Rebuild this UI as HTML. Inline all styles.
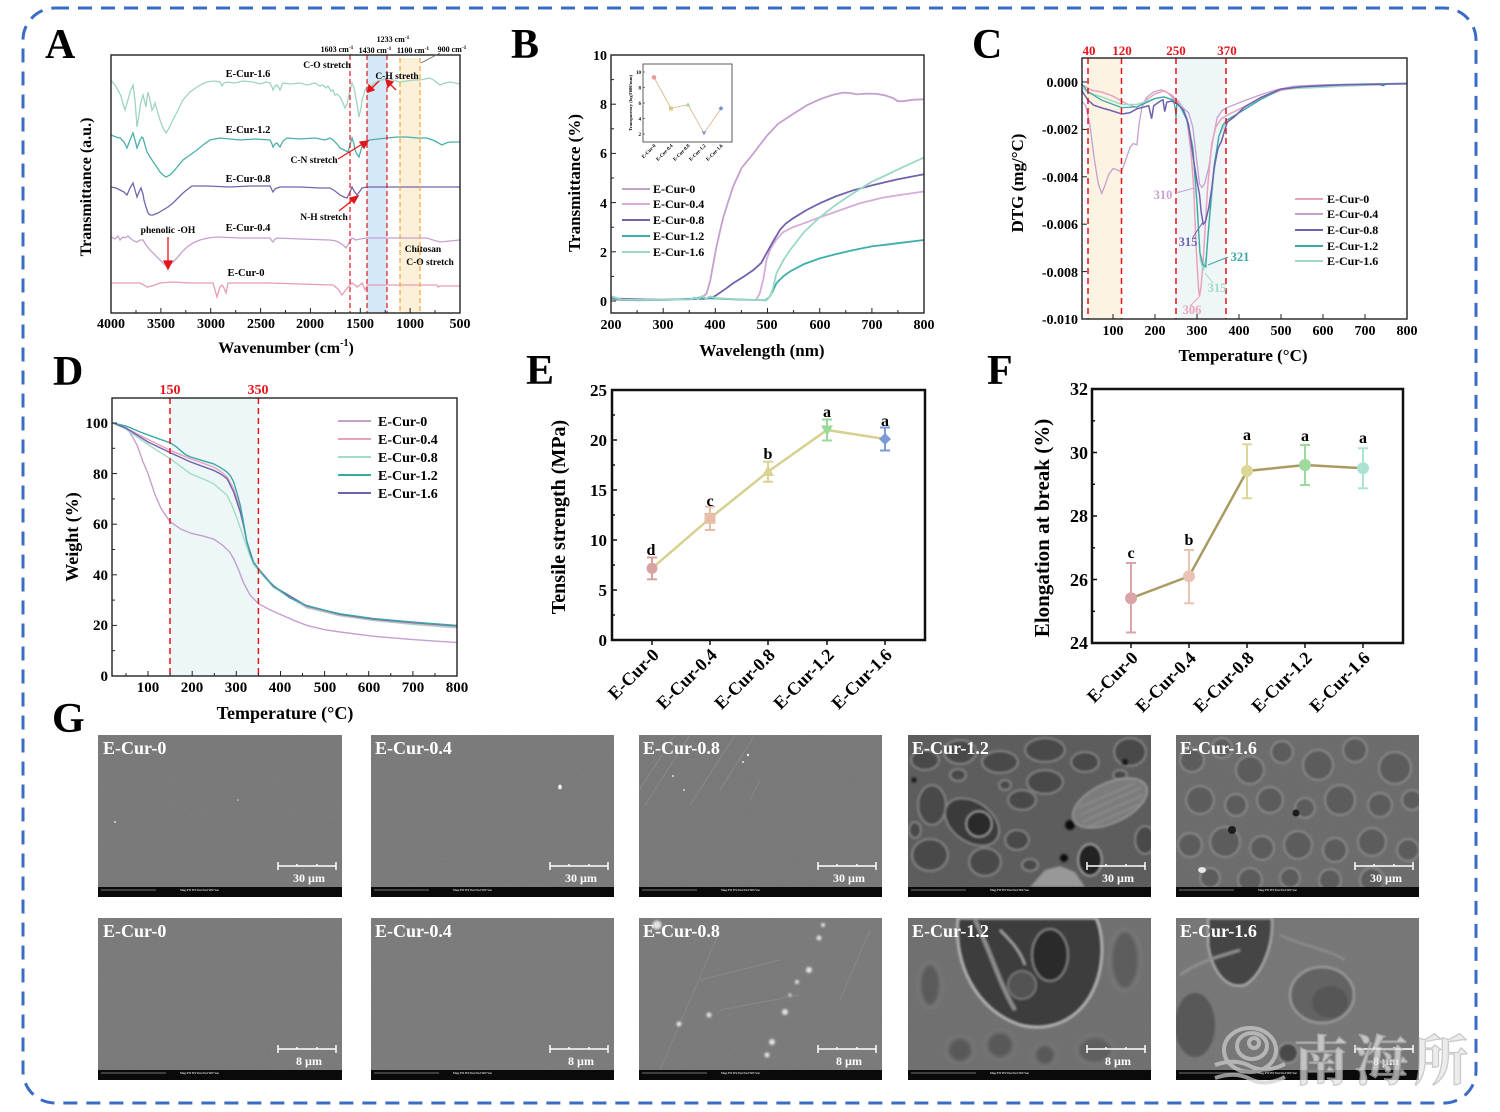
<!DOCTYPE html>
<html><head><meta charset="utf-8"><style>
html,body{margin:0;padding:0;background:#fff;}
svg{display:block;}
text{font-family:"Liberation Serif","Noto Serif CJK SC",serif;font-weight:bold;}
</style></head><body>
<svg width="1500" height="1112" viewBox="0 0 1500 1112" xmlns="http://www.w3.org/2000/svg">
<defs>
<filter id="grain" x="0" y="0" width="1" height="1">
<feTurbulence type="fractalNoise" baseFrequency="0.85" numOctaves="2" seed="4"/>
<feColorMatrix type="matrix" values="0.33 0.33 0.33 0 0 0.33 0.33 0.33 0 0 0.33 0.33 0.33 0 0 0 0 0 0 1"/>
</filter>
<filter id="soft"><feGaussianBlur stdDeviation="1.1"/></filter>
<filter id="soft2"><feGaussianBlur stdDeviation="2"/></filter>
<clipPath id="c1"><rect x="98" y="735" width="244" height="152"/></clipPath>
<clipPath id="c2"><rect x="371" y="735" width="243" height="152"/></clipPath>
<clipPath id="c3"><rect x="639" y="735" width="243" height="152"/></clipPath>
<clipPath id="c4"><rect x="908" y="735" width="243" height="152"/></clipPath>
<clipPath id="c5"><rect x="1176" y="735" width="243" height="152"/></clipPath>
<clipPath id="d1"><rect x="98" y="918" width="244" height="152"/></clipPath>
<clipPath id="d2"><rect x="371" y="918" width="243" height="152"/></clipPath>
<clipPath id="d3"><rect x="639" y="918" width="243" height="152"/></clipPath>
<clipPath id="d4"><rect x="908" y="918" width="243" height="152"/></clipPath>
<clipPath id="d5"><rect x="1176" y="918" width="243" height="152"/></clipPath>
</defs>

<!-- outer dashed border -->
<rect x="23" y="8" width="1453" height="1095" rx="32" ry="32" fill="none" stroke="#3a6bc5" stroke-width="3" stroke-dasharray="14 9"/>

<!-- ================= PANEL A ================= -->
<text x="45" y="58" font-size="42">A</text>
<rect x="367" y="55" width="20" height="258" fill="#d5e8f8"/>
<rect x="400" y="58" width="20" height="255" fill="#fdf0d9"/>
<g fill="none" stroke-width="1.3">
<path stroke="#9ed4c1" d="M111,80 L114,84 L118,90 L121,96 L123,104 L125,110 L127,103 L128,100 L130,92 L133,85 L135,100 L137,127 L139,115 L140,107 L142,98 L143,95 L145,103 L146,107 L147,98 L148,92 L150,100 L152,110 L154,106 L155,103 L157,110 L160,120 L163,128 L166,133 L169,128 L173,120 L178,110 L183,100 L190,92 L197,87 L202,84 L207,82 L214,81 L220,82 L222,86 L224,83 L227,82 L235,83 L243,81 L253,82 L260,84 L266,82 L270,83 L272,87 L273,90 L275,86 L277,85 L279,88 L280,90 L282,85 L283,83 L290,84 L300,83 L307,85 L315,83 L320,86 L323,85 L326,88 L328,86 L331,91 L333,90 L335,95 L337,94 L340,97 L343,103 L345,108 L347,104 L348,100 L350,90 L352,83 L354,88 L355,93 L357,104 L359,117 L361,108 L362,100 L364,94 L365,90 L367,87 L370,88 L373,84 L377,82 L382,80 L387,78 L393,80 L400,82 L407,81 L414,80 L420,80 L425,79 L430,78 L435,81 L440,85 L445,83 L450,82 L455,83 L460,84"/>
<path stroke="#4caeaa" d="M111,135 L116,137 L120,138 L124,142 L127,148 L130,140 L133,133 L135,140 L137,148 L139,143 L140,140 L142,137 L143,138 L145,145 L147,152 L150,157 L152,160 L156,166 L160,172 L163,175 L166,177 L170,175 L173,172 L178,166 L183,160 L190,155 L197,150 L203,145 L210,140 L215,139 L220,138 L230,139 L240,140 L255,139 L270,140 L272,144 L273,147 L275,144 L277,143 L279,146 L280,147 L283,141 L287,138 L300,139 L315,138 L325,140 L330,138 L333,140 L337,144 L340,148 L344,150 L348,152 L350,145 L352,138 L354,144 L355,150 L357,154 L359,157 L361,150 L363,143 L366,141 L370,140 L378,139 L387,138 L397,137 L407,137 L417,138 L427,138 L435,141 L442,145 L446,143 L450,142 L460,142"/>
<path stroke="#7463ad" d="M111,187 L116,188 L120,190 L124,192 L127,195 L130,188 L133,183 L135,190 L137,197 L139,192 L141,188 L143,194 L144,200 L146,207 L148,213 L150,215 L153,215 L158,213 L163,210 L168,207 L173,203 L178,198 L183,193 L188,189 L192,186 L207,186 L230,187 L250,186 L270,186 L272,190 L273,192 L275,189 L277,188 L280,187 L300,187 L320,188 L330,188 L335,191 L340,195 L344,197 L347,198 L350,192 L352,187 L354,191 L357,195 L360,191 L362,188 L367,187 L400,187 L430,187 L460,187"/>
<path stroke="#c6a0cf" d="M111,237 L115,239 L118,236 L120,240 L123,237 L125,238 L128,236 L130,238 L134,241 L137,242 L140,240 L143,240 L146,245 L150,250 L155,255 L160,260 L164,264 L168,267 L172,263 L177,258 L182,252 L187,247 L193,243 L200,240 L208,238 L217,237 L240,238 L270,238 L272,241 L273,242 L275,239 L277,238 L300,239 L330,240 L336,241 L340,243 L343,245 L346,248 L349,243 L352,238 L356,240 L360,239 L367,238 L400,238 L427,238 L433,240 L440,242 L450,241 L460,240"/>
<path stroke="#e59cb7" d="M111,283 L130,283 L140,283 L144,285 L147,287 L152,286 L160,283 L173,282 L190,283 L207,283 L213,283 L215,290 L217,297 L219,290 L220,287 L222,285 L224,288 L226,293 L227,288 L228,283 L250,283 L270,283 L300,284 L333,285 L338,289 L342,295 L345,291 L348,287 L352,283 L355,285 L357,287 L360,285 L362,283 L364,287 L365,290 L367,286 L368,285 L400,285 L437,285 L438,287 L440,286 L460,286"/>
</g>
<g stroke-width="1.2" stroke-dasharray="5 3">
<line x1="350" y1="55" x2="350" y2="313" stroke="#e4141b"/>
<line x1="367" y1="55" x2="367" y2="313" stroke="#e4141b"/>
<line x1="387" y1="55" x2="387" y2="313" stroke="#e4141b"/>
<line x1="400" y1="58" x2="400" y2="313" stroke="#f0a830"/>
<line x1="420" y1="58" x2="420" y2="313" stroke="#f0a830"/>
</g>
<rect x="111" y="55" width="349" height="258" fill="none" stroke="#222" stroke-width="1.4"/>
<g stroke="#222" stroke-width="1">
<line x1="111" y1="313" x2="111" y2="308"/><line x1="160.9" y1="313" x2="160.9" y2="308"/><line x1="210.7" y1="313" x2="210.7" y2="308"/><line x1="260.6" y1="313" x2="260.6" y2="308"/><line x1="310.4" y1="313" x2="310.4" y2="308"/><line x1="360.3" y1="313" x2="360.3" y2="308"/><line x1="410.1" y1="313" x2="410.1" y2="308"/>
<line x1="136" y1="313" x2="136" y2="310"/><line x1="185.8" y1="313" x2="185.8" y2="310"/><line x1="235.7" y1="313" x2="235.7" y2="310"/><line x1="285.5" y1="313" x2="285.5" y2="310"/><line x1="335.4" y1="313" x2="335.4" y2="310"/><line x1="385.2" y1="313" x2="385.2" y2="310"/><line x1="435" y1="313" x2="435" y2="310"/>
</g>
<g font-size="14" text-anchor="middle">
<text x="111" y="328">4000</text><text x="161" y="328">3500</text><text x="211" y="328">3000</text><text x="261" y="328">2500</text><text x="310" y="328">2000</text><text x="360" y="328">1500</text><text x="410" y="328">1000</text><text x="460" y="328">500</text>
</g>
<text x="286" y="353" font-size="16" text-anchor="middle">Wavenumber (cm<tspan font-size="10" dy="-7">-1</tspan><tspan dy="7">)</tspan></text>
<text transform="translate(91,187) rotate(-90)" font-size="16" text-anchor="middle">Transmittance (a.u.)</text>
<g font-size="10.5" text-anchor="middle">
<text x="248" y="77">E-Cur-1.6</text><text x="248" y="133">E-Cur-1.2</text><text x="248" y="182">E-Cur-0.8</text><text x="248" y="231">E-Cur-0.4</text><text x="246" y="276">E-Cur-0</text>
</g>
<g font-size="9.5" text-anchor="middle">
<text x="327" y="68">C-O stretch</text><text x="397" y="79">C-H streth</text><text x="314" y="163">C-N stretch</text><text x="324" y="220">N-H stretch</text><text x="168" y="233">phenolic -OH</text><text x="423" y="252">Chitosan</text><text x="430" y="265">C-O stretch</text>
</g>
<g font-size="8" text-anchor="middle">
<text x="393" y="42">1233 cm<tspan font-size="5.5" dy="-3">-1</tspan></text>
<text x="337" y="52">1603 cm<tspan font-size="5.5" dy="-3">-1</tspan></text>
<text x="375" y="53">1430 cm<tspan font-size="5.5" dy="-3">-1</tspan></text>
<text x="413" y="53">1100 cm<tspan font-size="5.5" dy="-3">-1</tspan></text>
<text x="452" y="52">900 cm<tspan font-size="5.5" dy="-3">-1</tspan></text>
</g>
<g stroke="#e4141b" stroke-width="1.3" fill="#e4141b">
<line x1="168" y1="237" x2="168" y2="263"/><polygon points="164,261 172,261 168,269"/>
<line x1="338" y1="159" x2="364" y2="143"/><polygon points="368,141 360,142 364,148"/>
<line x1="339" y1="211" x2="354" y2="199"/><polygon points="358,196 350,198 354,203"/>
<line x1="379" y1="81" x2="371" y2="89"/><polygon points="368,92 369,85 374,90"/>
<line x1="396" y1="90" x2="390" y2="84"/><polygon points="386,80 393,82 388,87"/>
</g>
<line x1="421" y1="63" x2="440" y2="53" stroke="#666" stroke-width="0.8"/>

<!-- ================= PANEL B ================= -->
<text x="511" y="58" font-size="42">B</text>
<g fill="none" stroke-width="1.8">
<path stroke="#c59fd0" d="M611,298 L616.2,299.8 L637.1,300.3 L663.2,299.8 L684,299.3 L694.5,298.5 L702.3,297.3 L706.5,293.6 L710.1,281.3 L716.4,246.9 L723.2,217.4 L733.1,186.6 L741.4,168.2 L753.4,153.4 L766.5,136.2 L778,123.9 L793.1,114 L806.6,105.4 L819.7,99.3 L832.7,94.9 L843.2,92.6 L851,93.1 L856.7,94.4 L866.6,93.6 L876.5,93.9 L884.9,95.3 L892.7,98 L897.9,101.2 L903.2,101.2 L913.6,99.7 L924,99.3"/>
<path stroke="#d7abd8" d="M611,298.5 L663.2,299.8 L704.9,299 L715.3,298.5 L741.4,299.8 L756,300 L759.7,293.6 L763.4,278.9 L766.5,259.9 L770.2,249.3 L776.4,239.5 L783.2,232.1 L793.1,227.2 L806.6,222.3 L819.7,217.4 L840.6,210 L859.9,203.3 L882.3,197.7 L903.2,194.5 L924,191.5"/>
<path stroke="#7361ae" d="M611,298.5 L663.2,299.8 L704.9,298.5 L712.7,297.3 L716.4,295.1 L725.8,288.7 L733.1,283.3 L744.1,276.4 L753.4,270 L761.2,262.9 L766.5,253.3 L772.8,242 L780.1,229.7 L785.8,223.5 L793.1,218.3 L806.6,210 L819.7,203.3 L835.4,196.5 L853.1,190.3 L871.9,185.4 L897.9,179.2 L924,174.3"/>
<path stroke="#3eaeab" d="M611,297.3 L621.4,299.8 L663.2,300 L694.5,299 L699.7,297.3 L703,299 L707.5,298 L715.3,298.5 L741.4,299.5 L764.9,300.3 L769.1,297.3 L772.8,291.2 L776.4,283.3 L783.2,276.4 L790,271.5 L804,264.1 L819.7,258.4 L835.4,254.3 L853.1,250.1 L871.9,246.4 L897.9,243.2 L924,240"/>
<path stroke="#9ad7c6" d="M611,296.1 L621.4,299.5 L663.2,299.8 L690,299.5 L694.5,297.5 L698,299 L702.3,296.1 L706,298.5 L710.1,296.3 L715.3,298 L741.4,299.5 L766.5,300.3 L770.2,296.1 L772.8,288.7 L776.4,273.4 L783.2,260.4 L790,250.1 L804,232.1 L819.7,217.4 L835.4,205.1 L853.1,193.3 L871.9,181.7 L886.5,175 L903.2,166.9 L924,157.6"/>
</g>
<rect x="611" y="55" width="313" height="258" fill="none" stroke="#222" stroke-width="1.4"/>
<g stroke="#222" stroke-width="1">
<line x1="611" y1="301" x2="616" y2="301"/><line x1="611" y1="251.8" x2="616" y2="251.8"/><line x1="611" y1="202.6" x2="616" y2="202.6"/><line x1="611" y1="153.4" x2="616" y2="153.4"/><line x1="611" y1="104.2" x2="616" y2="104.2"/>
<line x1="611" y1="276.4" x2="614" y2="276.4"/><line x1="611" y1="227.2" x2="614" y2="227.2"/><line x1="611" y1="178" x2="614" y2="178"/><line x1="611" y1="128.8" x2="614" y2="128.8"/><line x1="611" y1="79.6" x2="614" y2="79.6"/>
<line x1="663.2" y1="313" x2="663.2" y2="308"/><line x1="715.3" y1="313" x2="715.3" y2="308"/><line x1="767.5" y1="313" x2="767.5" y2="308"/><line x1="819.7" y1="313" x2="819.7" y2="308"/><line x1="871.9" y1="313" x2="871.9" y2="308"/>
<line x1="637.1" y1="313" x2="637.1" y2="310"/><line x1="689.3" y1="313" x2="689.3" y2="310"/><line x1="741.4" y1="313" x2="741.4" y2="310"/><line x1="793.6" y1="313" x2="793.6" y2="310"/><line x1="845.8" y1="313" x2="845.8" y2="310"/><line x1="897.9" y1="313" x2="897.9" y2="310"/>
</g>
<g font-size="14" text-anchor="end">
<text x="607" y="306">0</text><text x="607" y="257">2</text><text x="607" y="208">4</text><text x="607" y="158">6</text><text x="607" y="109">8</text><text x="607" y="60">10</text>
</g>
<g font-size="14" text-anchor="middle">
<text x="611" y="329">200</text><text x="663" y="329">300</text><text x="715" y="329">400</text><text x="767" y="329">500</text><text x="820" y="329">600</text><text x="872" y="329">700</text><text x="924" y="329">800</text>
</g>
<text x="762" y="356" font-size="17" text-anchor="middle">Wavelength (nm)</text>
<text transform="translate(580,183) rotate(-90)" font-size="17" text-anchor="middle">Transmittance (%)</text>
<g stroke-width="2">
<line x1="622" y1="189" x2="650" y2="189" stroke="#c59fd0"/>
<line x1="622" y1="204" x2="650" y2="204" stroke="#d7abd8"/>
<line x1="622" y1="220" x2="650" y2="220" stroke="#7361ae"/>
<line x1="622" y1="236" x2="650" y2="236" stroke="#3eaeab"/>
<line x1="622" y1="252" x2="650" y2="252" stroke="#9ad7c6"/>
</g>
<g font-size="12">
<text x="653" y="193">E-Cur-0</text><text x="653" y="208">E-Cur-0.4</text><text x="653" y="224">E-Cur-0.8</text><text x="653" y="240">E-Cur-1.2</text><text x="653" y="256">E-Cur-1.6</text>
</g>
<!-- inset -->
<rect x="643" y="64" width="89" height="78" fill="#fff" stroke="#333" stroke-width="0.8"/>
<polyline points="654,77.4 671,108.4 688,104.6 704,133.2 721,108.4" fill="none" stroke="#e4b78d" stroke-width="0.9"/>
<circle cx="654" cy="77.4" r="2.3" fill="#e89a9a"/>
<rect x="669" y="106.4" width="4" height="4" fill="#d6cb7e"/>
<polygon points="688,102.2 690.4,106.4 685.6,106.4" fill="#a9da94"/>
<polygon points="704,135.5 706.4,131.3 701.6,131.3" fill="#8c98d8"/>
<polygon points="721,106 723.4,108.4 721,110.8 718.6,108.4" fill="#7a8ed8"/>
<g stroke="#333" stroke-width="0.6"><line x1="643" y1="72" x2="645" y2="72"/><line x1="643" y1="87.5" x2="645" y2="87.5"/><line x1="643" y1="103" x2="645" y2="103"/><line x1="643" y1="118.5" x2="645" y2="118.5"/><line x1="643" y1="134" x2="645" y2="134"/></g>
<g font-size="5" text-anchor="end" font-weight="normal">
<text x="641" y="74">10</text><text x="641" y="89.5">8</text><text x="641" y="105">6</text><text x="641" y="120.5">4</text><text x="641" y="136">2</text>
</g>
<text transform="translate(632,103) rotate(-90)" font-size="4.6" text-anchor="middle">Transparency (logT600/mm)</text>
<g font-size="5" text-anchor="end">
<text transform="translate(656,146) rotate(-45)">E-Cur-0</text>
<text transform="translate(673,146) rotate(-45)">E-Cur-0.4</text>
<text transform="translate(690,146) rotate(-45)">E-Cur-0.8</text>
<text transform="translate(706,146) rotate(-45)">E-Cur-1.2</text>
<text transform="translate(723,146) rotate(-45)">E-Cur-1.6</text>
</g>

<!-- ================= PANEL C ================= -->
<text x="972" y="58" font-size="42">C</text>
<rect x="1088" y="58" width="33" height="261" fill="#fdf3e2"/>
<rect x="1176" y="58" width="50" height="261" fill="#eef6f8"/>
<g fill="none" stroke-width="1.3">
<path stroke="#c59fd0" d="M1081.5,101 L1085.7,105.7 L1089.9,124.7 L1094.1,157.8 L1098.3,183.9 L1101.7,193.4 L1104.6,186.3 L1108.8,174.4 L1113,168.5 L1116.8,169.7 L1121.4,172.1 L1125.6,160.2 L1130.2,147.2 L1133.2,143.6 L1136.9,144.8 L1139,124.7 L1142,106.9 L1146.6,97.4 L1153.7,92 L1161.3,89.8 L1167.6,92.7 L1173.5,98.6 L1180.2,104.5 L1184.4,109.3 L1188.6,112.8 L1192.8,127 L1197,162.6 L1199.5,183.9 L1202,187.5 L1204.6,183.9 L1208.8,167.3 L1213,138.9 L1217.2,117.6 L1222.2,110.4 L1227.2,107.4 L1234.8,104.5 L1243.6,101 L1260,95 L1276.8,89.6 L1293.6,86.3 L1323,84.8 L1365,83.9 L1407,83.2"/>
<path stroke="#e9a2bd" stroke-width="1.5" d="M1081.5,84.4 L1092,90.3 L1101.7,92 L1113,96.2 L1125.6,103.3 L1136.9,107.6 L1146.6,99.8 L1155,93.9 L1163.8,90.8 L1171.8,95 L1180.2,103.3 L1186.9,119.9 L1191.1,153.1 L1193.6,186.3 L1196.2,247.9 L1198.3,285.8 L1199.5,296.7 L1201.2,285.8 L1203.7,252.6 L1207.5,188.7 L1211.7,143.6 L1215.9,127 L1221.4,118.7 L1227.2,115.2 L1239,109.3 L1260,98.6 L1281,90.3 L1306.2,86.7 L1344,84.8 L1407,83.4"/>
<path stroke="#9fdac7" stroke-width="1.5" d="M1081.5,87 L1087.8,92.7 L1101.7,96.9 L1121.8,104.5 L1136.9,104.5 L1155,98.6 L1163.8,96.9 L1173.5,99.8 L1181,105.7 L1186.9,117.6 L1192.8,146 L1197,205.2 L1200.4,259.8 L1203.3,270.4 L1206.2,257.4 L1209.6,219.5 L1213.8,174.4 L1218.8,136.5 L1227.2,119.9 L1239,112.8 L1260,99.8 L1281,89.1 L1407,83.4"/>
<path stroke="#3aa8a5" d="M1081.5,83.7 L1087.8,91.5 L1101.7,100.2 L1121.8,107.6 L1136.9,106.9 L1155,98.6 L1163.8,96.9 L1173.5,100.2 L1175.2,108.1 L1176,117.6 L1176.8,103.3 L1181,108.1 L1186.9,119.9 L1192.8,148.4 L1197,202.9 L1199.9,252.6 L1202.9,264.5 L1205.8,266.9 L1207.9,236 L1210.9,200.5 L1214.2,165 L1218.8,136.5 L1223,124.7 L1227.2,119.9 L1239,112.8 L1260,99.8 L1281,89.1 L1306.2,86.3 L1344,84.6 L1407,83.4"/>
<path stroke="#7060b0" stroke-width="1.5" d="M1081.5,90.3 L1087.8,99.8 L1093.7,105.2 L1102.5,108.1 L1110.5,110.4 L1121.8,114 L1129.8,112.8 L1136.9,108.8 L1144.5,106.9 L1148.7,105.7 L1151.6,118.7 L1153.7,105.7 L1160.5,101 L1163,99.8 L1164.7,111.6 L1166.8,102.1 L1171.8,101 L1178.1,104.5 L1183.6,110.4 L1188.6,124.7 L1193.6,160.2 L1197,181.5 L1199.5,194.3 L1201.2,212.4 L1203.3,224.2 L1205.4,221.8 L1208.8,207.6 L1211.7,188.7 L1214.2,167.3 L1218,148.4 L1221.4,141.3 L1227.2,122.3 L1234.8,116.4 L1244,107.4 L1260.8,97.4 L1281,89.1 L1302,86.7 L1344,84.8 L1380,84.4 L1383,85.5 L1386,84 L1407,83.9"/>
</g>
<g stroke="#e4141b" stroke-width="1.5" stroke-dasharray="6 4">
<line x1="1088" y1="58" x2="1088" y2="319"/><line x1="1121.5" y1="58" x2="1121.5" y2="319"/><line x1="1176" y1="58" x2="1176" y2="319"/><line x1="1226" y1="58" x2="1226" y2="319"/>
</g>
<rect x="1082" y="58" width="325" height="261" fill="none" stroke="#222" stroke-width="1.4"/>
<g stroke="#222" stroke-width="1">
<line x1="1082" y1="82" x2="1087" y2="82"/><line x1="1082" y1="129.4" x2="1087" y2="129.4"/><line x1="1082" y1="176.8" x2="1087" y2="176.8"/><line x1="1082" y1="224.2" x2="1087" y2="224.2"/><line x1="1082" y1="271.6" x2="1087" y2="271.6"/>
<line x1="1113" y1="319" x2="1113" y2="314"/><line x1="1155" y1="319" x2="1155" y2="314"/><line x1="1197" y1="319" x2="1197" y2="314"/><line x1="1239" y1="319" x2="1239" y2="314"/><line x1="1281" y1="319" x2="1281" y2="314"/><line x1="1323" y1="319" x2="1323" y2="314"/><line x1="1365" y1="319" x2="1365" y2="314"/>
</g>
<g font-size="14" text-anchor="end">
<text x="1078" y="87">0.000</text><text x="1078" y="134">-0.002</text><text x="1078" y="182">-0.004</text><text x="1078" y="229">-0.006</text><text x="1078" y="277">-0.008</text><text x="1078" y="324">-0.010</text>
</g>
<g font-size="14" text-anchor="middle">
<text x="1113" y="335">100</text><text x="1155" y="335">200</text><text x="1197" y="335">300</text><text x="1239" y="335">400</text><text x="1281" y="335">500</text><text x="1323" y="335">600</text><text x="1365" y="335">700</text><text x="1407" y="335">800</text>
</g>
<text x="1243" y="361" font-size="17" text-anchor="middle">Temperature (°C)</text>
<text transform="translate(1023,183) rotate(-90)" font-size="17" text-anchor="middle">DTG (mg/°C)</text>
<g font-size="13" fill="#e4141b" text-anchor="middle">
<text x="1089" y="55">40</text><text x="1122" y="55">120</text><text x="1176" y="55">250</text><text x="1227" y="55">370</text>
</g>
<g font-size="12.5" text-anchor="middle">
<text x="1163" y="199" fill="#c8a2d2">310</text>
<text x="1188" y="246" fill="#7060b0">315</text>
<text x="1240" y="261" fill="#3aa8a5">321</text>
<text x="1217" y="292" fill="#9fdac7">315</text>
<text x="1192" y="314" fill="#e9a2bd">306</text>
</g>
<g stroke-width="1">
<line x1="1176" y1="193" x2="1198" y2="187" stroke="#c8a2d2"/>
<line x1="1193" y1="237" x2="1203" y2="222" stroke="#7060b0"/>
<line x1="1228" y1="257" x2="1208" y2="265" stroke="#3aa8a5"/>
<line x1="1213" y1="283" x2="1205" y2="273" stroke="#9fdac7"/>
<line x1="1190" y1="306" x2="1199" y2="297" stroke="#e9a2bd"/>
</g>
<g stroke-width="2">
<line x1="1295" y1="199" x2="1323" y2="199" stroke="#e9a2bd"/>
<line x1="1295" y1="214" x2="1323" y2="214" stroke="#c59fd0"/>
<line x1="1295" y1="230" x2="1323" y2="230" stroke="#7060b0"/>
<line x1="1295" y1="246" x2="1323" y2="246" stroke="#3aa8a5"/>
<line x1="1295" y1="261" x2="1323" y2="261" stroke="#9fdac7"/>
</g>
<g font-size="12">
<text x="1327" y="203">E-Cur-0</text><text x="1327" y="218">E-Cur-0.4</text><text x="1327" y="234">E-Cur-0.8</text><text x="1327" y="250">E-Cur-1.2</text><text x="1327" y="265">E-Cur-1.6</text>
</g>

<!-- ================= PANEL D ================= -->
<text x="53" y="385" font-size="42">D</text>
<rect x="170" y="398" width="88.4" height="278" fill="#eef7f7"/>
<g fill="none" stroke-width="1.4">
<path stroke="#c59fd0" d="M113,423 L121.6,425.5 L127.3,428.6 L132.6,437 L137.4,445.8 L142.7,461 L148,473.6 L154.7,493.8 L161.3,509 L170.1,521.7 L181.1,529.3 L192.2,533.6 L203.2,536.1 L214.3,539.4 L223.1,545.7 L229.7,552 L234.1,559.6 L238.5,569.7 L243.4,582.4 L250,595 L258.4,603.6 L269.4,609.5 L280.5,614.5 L293.7,620.3 L307,625.4 L324.6,629.7 L340.1,632 L373.6,636.3 L412.9,639.6 L457,642.6"/>
<path stroke="#a2dbc8" d="M113,423 L126,429.3 L148,444.5 L170.1,458.7 L190.4,473.6 L205.4,479.9 L213.4,483.7 L220.9,490 L227.1,495.4 L231.9,505.2 L236.3,516.6 L241.6,531.8 L246.9,547 L253.5,564.7 L258.4,570.2 L273.4,587.5 L306.5,607.7 L340.1,615.8 L373.6,620.6 L412.9,624.4 L457,627.9"/>
<path stroke="#e9a2bd" d="M113,423 L126,428.1 L148,439.4 L170.1,450.3 L190.4,458.7 L213.4,467 L220.9,471.6 L227.1,476.9 L233.7,488.8 L240.3,508.5 L243.8,525.5 L246.9,541.9 L253.5,562.2 L258.4,568.7 L273.4,586.7 L306.5,606.7 L340.1,615 L373.6,619.8 L412.9,623.4 L457,626.7"/>
<path stroke="#7060b0" d="M113,423 L126,428.1 L148,442 L170.1,452.6 L190.4,461.9 L213.4,470.3 L220.9,474.1 L227.1,478.7 L233.7,492.1 L240.3,512.1 L243.8,526.7 L246.9,541.9 L253.5,562.2 L258.4,568.7 L273.4,586.2 L306.5,605.9 L340.1,614.3 L373.6,619.1 L412.9,622.6 L457,625.9"/>
<path stroke="#3aa8a5" d="M113,423 L126,426 L140.5,432.1 L156.9,438.2 L170.1,442.7 L176.7,447 L180.3,450.3 L185.6,454.6 L190.4,456.9 L201,460.2 L213.4,463.8 L220.9,467.8 L227.1,472.2 L230.6,476.1 L233.7,482 L237.2,493.8 L240.3,505.2 L243.8,524.2 L246.9,541.9 L250.4,554.6 L253.5,562.2 L258.4,568.7 L265,577.3 L273.4,585.4 L289.3,597.6 L306.5,605.4 L324.6,610.2 L340.1,613.8 L373.6,618.6 L412.9,622.1 L457,625.4"/>
</g>
<g stroke="#e4141b" stroke-width="1.5" stroke-dasharray="6 4">
<line x1="170" y1="398" x2="170" y2="676"/><line x1="258.4" y1="398" x2="258.4" y2="676"/>
</g>
<rect x="112" y="398" width="345" height="278" fill="none" stroke="#222" stroke-width="1.4"/>
<g stroke="#222" stroke-width="1">
<line x1="112" y1="625.4" x2="117" y2="625.4"/><line x1="112" y1="574.8" x2="117" y2="574.8"/><line x1="112" y1="524.2" x2="117" y2="524.2"/><line x1="112" y1="473.6" x2="117" y2="473.6"/><line x1="112" y1="423" x2="117" y2="423"/>
<line x1="112" y1="650.7" x2="115" y2="650.7"/><line x1="112" y1="600.1" x2="115" y2="600.1"/><line x1="112" y1="549.5" x2="115" y2="549.5"/><line x1="112" y1="498.9" x2="115" y2="498.9"/><line x1="112" y1="448.3" x2="115" y2="448.3"/>
<line x1="148" y1="676" x2="148" y2="671"/><line x1="192.2" y1="676" x2="192.2" y2="671"/><line x1="236.3" y1="676" x2="236.3" y2="671"/><line x1="280.5" y1="676" x2="280.5" y2="671"/><line x1="324.6" y1="676" x2="324.6" y2="671"/><line x1="368.7" y1="676" x2="368.7" y2="671"/><line x1="412.9" y1="676" x2="412.9" y2="671"/>
<line x1="126" y1="676" x2="126" y2="673"/><line x1="170.1" y1="676" x2="170.1" y2="673"/><line x1="214.3" y1="676" x2="214.3" y2="673"/><line x1="258.4" y1="676" x2="258.4" y2="673"/><line x1="302.5" y1="676" x2="302.5" y2="673"/><line x1="346.7" y1="676" x2="346.7" y2="673"/><line x1="390.8" y1="676" x2="390.8" y2="673"/><line x1="435" y1="676" x2="435" y2="673"/>
</g>
<g font-size="15" text-anchor="end">
<text x="108" y="681">0</text><text x="108" y="630">20</text><text x="108" y="580">40</text><text x="108" y="529">60</text><text x="108" y="479">80</text><text x="108" y="428">100</text>
</g>
<g font-size="15" text-anchor="middle">
<text x="148" y="692">100</text><text x="192" y="692">200</text><text x="236" y="692">300</text><text x="280" y="692">400</text><text x="325" y="692">500</text><text x="369" y="692">600</text><text x="413" y="692">700</text><text x="457" y="692">800</text>
</g>
<text x="285" y="719" font-size="18" text-anchor="middle">Temperature (°C)</text>
<text transform="translate(78,537) rotate(-90)" font-size="18" text-anchor="middle">Weight (%)</text>
<g font-size="14" fill="#e4141b" text-anchor="middle"><text x="170" y="394">150</text><text x="258" y="394">350</text></g>
<g stroke-width="2">
<line x1="338" y1="421" x2="371" y2="421" stroke="#c59fd0"/>
<line x1="338" y1="439" x2="371" y2="439" stroke="#e9a2bd"/>
<line x1="338" y1="457" x2="371" y2="457" stroke="#a2dbc8"/>
<line x1="338" y1="475" x2="371" y2="475" stroke="#3aa8a5"/>
<line x1="338" y1="493" x2="371" y2="493" stroke="#7060b0"/>
</g>
<g font-size="14">
<text x="378" y="426">E-Cur-0</text><text x="378" y="444">E-Cur-0.4</text><text x="378" y="462">E-Cur-0.8</text><text x="378" y="480">E-Cur-1.2</text><text x="378" y="498">E-Cur-1.6</text>
</g>

<!-- ================= PANEL E ================= -->
<text x="526" y="384" font-size="42">E</text>
<polyline points="652,568.3 710,518.3 768,471.7 827,430 885,439" fill="none" stroke="#d7d08f" stroke-width="2.5"/>
<g stroke-width="2">
<g stroke="#d9a3a3"><line x1="652" y1="557.5" x2="652" y2="579.3"/><line x1="647" y1="557.5" x2="657" y2="557.5"/><line x1="647" y1="579.3" x2="657" y2="579.3"/></g>
<g stroke="#e6bda6"><line x1="710" y1="506.6" x2="710" y2="530"/><line x1="705" y1="506.6" x2="715" y2="506.6"/><line x1="705" y1="530" x2="715" y2="530"/></g>
<g stroke="#d9d394"><line x1="768" y1="461.7" x2="768" y2="481.7"/><line x1="763" y1="461.7" x2="773" y2="461.7"/><line x1="763" y1="481.7" x2="773" y2="481.7"/></g>
<g stroke="#9bd99b"><line x1="827" y1="419.5" x2="827" y2="440.5"/><line x1="822" y1="419.5" x2="832" y2="419.5"/><line x1="822" y1="440.5" x2="832" y2="440.5"/></g>
<g stroke="#7b9ad3"><line x1="885" y1="427.5" x2="885" y2="450.5"/><line x1="880" y1="427.5" x2="890" y2="427.5"/><line x1="880" y1="450.5" x2="890" y2="450.5"/></g>
</g>
<circle cx="652" cy="568.3" r="5.5" fill="#d9a3a3"/>
<rect x="704.5" y="512.8" width="11" height="11" fill="#e6bda6"/>
<polygon points="768,465.5 774,476 762,476" fill="#d9d394"/>
<polygon points="827,436 833,425.5 821,425.5" fill="#9bd99b"/>
<polygon points="885,433 891,439 885,445 879,439" fill="#7b9ad3"/>
<g font-size="16" text-anchor="middle">
<text x="651" y="555">d</text><text x="710" y="506">c</text><text x="768" y="459">b</text><text x="827" y="417">a</text><text x="885" y="426">a</text>
</g>
<rect x="612" y="390" width="313" height="250" fill="none" stroke="#111" stroke-width="2.5"/>
<g stroke="#111" stroke-width="1.5">
<line x1="612" y1="590" x2="617" y2="590"/><line x1="612" y1="540" x2="617" y2="540"/><line x1="612" y1="490" x2="617" y2="490"/><line x1="612" y1="440" x2="617" y2="440"/>
<line x1="612" y1="615" x2="615" y2="615"/><line x1="612" y1="565" x2="615" y2="565"/><line x1="612" y1="515" x2="615" y2="515"/><line x1="612" y1="465" x2="615" y2="465"/><line x1="612" y1="415" x2="615" y2="415"/>
<line x1="652" y1="640" x2="652" y2="645"/><line x1="710" y1="640" x2="710" y2="645"/><line x1="768" y1="640" x2="768" y2="645"/><line x1="827" y1="640" x2="827" y2="645"/><line x1="885" y1="640" x2="885" y2="645"/>
</g>
<g font-size="17" text-anchor="end">
<text x="607" y="646">0</text><text x="607" y="596">5</text><text x="607" y="546">10</text><text x="607" y="496">15</text><text x="607" y="446">20</text><text x="607" y="396">25</text>
</g>
<g font-size="18" text-anchor="end">
<text transform="translate(660,656) rotate(-45)">E-Cur-0</text>
<text transform="translate(718,656) rotate(-45)">E-Cur-0.4</text>
<text transform="translate(776,656) rotate(-45)">E-Cur-0.8</text>
<text transform="translate(835,656) rotate(-45)">E-Cur-1.2</text>
<text transform="translate(893,656) rotate(-45)">E-Cur-1.6</text>
</g>
<text transform="translate(565,517) rotate(-90)" font-size="20" text-anchor="middle">Tensile strength (MPa)</text>

<!-- ================= PANEL F ================= -->
<text x="987" y="384" font-size="42">F</text>
<polyline points="1131,598.2 1189,576.3 1247,471 1305,465 1363,468.3" fill="none" stroke="#a99a62" stroke-width="2.5"/>
<g stroke-width="2">
<g stroke="#d9a4a8"><line x1="1131" y1="563" x2="1131" y2="632.5"/><line x1="1126" y1="563" x2="1136" y2="563"/><line x1="1126" y1="632.5" x2="1136" y2="632.5"/></g>
<g stroke="#e9c4b4"><line x1="1189" y1="550" x2="1189" y2="603.3"/><line x1="1184" y1="550" x2="1194" y2="550"/><line x1="1184" y1="603.3" x2="1194" y2="603.3"/></g>
<g stroke="#dcd699"><line x1="1247" y1="444.3" x2="1247" y2="498.3"/><line x1="1242" y1="444.3" x2="1252" y2="444.3"/><line x1="1242" y1="498.3" x2="1252" y2="498.3"/></g>
<g stroke="#9ed99e"><line x1="1305" y1="445" x2="1305" y2="485"/><line x1="1300" y1="445" x2="1310" y2="445"/><line x1="1300" y1="485" x2="1310" y2="485"/></g>
<g stroke="#abe3d3"><line x1="1363" y1="448.3" x2="1363" y2="488.3"/><line x1="1358" y1="448.3" x2="1368" y2="448.3"/><line x1="1358" y1="488.3" x2="1368" y2="488.3"/></g>
</g>
<circle cx="1131" cy="598.2" r="6" fill="#d9a4a8"/>
<circle cx="1189" cy="576.3" r="6" fill="#e9c4b4"/>
<circle cx="1247" cy="471" r="6" fill="#dcd699"/>
<circle cx="1305" cy="465" r="6" fill="#9ed99e"/>
<circle cx="1363" cy="468.3" r="6" fill="#abe3d3"/>
<g font-size="16" text-anchor="middle">
<text x="1131" y="558">c</text><text x="1189" y="545">b</text><text x="1247" y="440">a</text><text x="1305" y="441">a</text><text x="1363" y="443">a</text>
</g>
<rect x="1092" y="389" width="311" height="254" fill="none" stroke="#111" stroke-width="2.5"/>
<g stroke="#111" stroke-width="1.5">
<line x1="1092" y1="579.5" x2="1097" y2="579.5"/><line x1="1092" y1="516" x2="1097" y2="516"/><line x1="1092" y1="452.5" x2="1097" y2="452.5"/>
<line x1="1092" y1="611.3" x2="1095" y2="611.3"/><line x1="1092" y1="547.8" x2="1095" y2="547.8"/><line x1="1092" y1="484.3" x2="1095" y2="484.3"/><line x1="1092" y1="420.8" x2="1095" y2="420.8"/>
<line x1="1131" y1="643" x2="1131" y2="648"/><line x1="1189" y1="643" x2="1189" y2="648"/><line x1="1247" y1="643" x2="1247" y2="648"/><line x1="1305" y1="643" x2="1305" y2="648"/><line x1="1363" y1="643" x2="1363" y2="648"/>
</g>
<g font-size="18" text-anchor="end">
<text x="1088" y="649">24</text><text x="1088" y="586">26</text><text x="1088" y="522">28</text><text x="1088" y="459">30</text><text x="1088" y="395">32</text>
</g>
<g font-size="18" text-anchor="end">
<text transform="translate(1139,659) rotate(-45)">E-Cur-0</text>
<text transform="translate(1197,659) rotate(-45)">E-Cur-0.4</text>
<text transform="translate(1255,659) rotate(-45)">E-Cur-0.8</text>
<text transform="translate(1313,659) rotate(-45)">E-Cur-1.2</text>
<text transform="translate(1371,659) rotate(-45)">E-Cur-1.6</text>
</g>
<text transform="translate(1049,528) rotate(-90)" font-size="21" text-anchor="middle">Elongation at break (%)</text>

<!-- ================= PANEL G ================= -->
<text x="52" y="732" font-size="42">G</text>

<!-- Row 1 -->
<g clip-path="url(#c1)">
<rect x="98" y="735" width="244" height="152" fill="#707070"/>
<rect x="98" y="735" width="244" height="152" filter="url(#grain)" opacity="0.14"/>
<circle cx="115" cy="822" r="1" fill="#ddd"/><circle cx="238" cy="800" r="0.8" fill="#ccc"/>
</g>
<g clip-path="url(#c2)">
<rect x="371" y="735" width="243" height="152" fill="#717171"/>
<rect x="371" y="735" width="243" height="152" filter="url(#grain)" opacity="0.14"/>
<ellipse cx="560" cy="787" rx="1.8" ry="2.5" fill="#f2f2f2"/>
</g>
<g clip-path="url(#c3)">
<rect x="639" y="735" width="243" height="152" fill="#6f6f6f"/>
<rect x="639" y="735" width="243" height="152" filter="url(#grain)" opacity="0.14"/>
<g stroke="#999" stroke-width="1" opacity="0.5">
<line x1="639" y1="790" x2="675" y2="735"/><line x1="645" y1="805" x2="690" y2="735"/><line x1="690" y1="805" x2="735" y2="735"/><line x1="720" y1="790" x2="755" y2="735"/><line x1="750" y1="800" x2="760" y2="780"/>
</g>
<circle cx="748" cy="755" r="1.2" fill="#eee"/><circle cx="743" cy="762" r="1" fill="#eee"/><circle cx="673" cy="776" r="1" fill="#ddd"/><circle cx="684" cy="790" r="1" fill="#ddd"/>
</g>
<g clip-path="url(#c4)">
<rect x="908" y="735" width="243" height="152" fill="#505050"/>
<rect x="908" y="735" width="243" height="152" filter="url(#grain)" opacity="0.12"/>
<g stroke="#878787" stroke-width="1.8" fill="#484848" filter="url(#soft)">
<ellipse cx="925" cy="760" rx="14" ry="10"/><ellipse cx="960" cy="752" rx="16" ry="12"/><ellipse cx="1000" cy="762" rx="18" ry="11"/><ellipse cx="1045" cy="750" rx="20" ry="12"/><ellipse cx="1085" cy="762" rx="14" ry="10"/><ellipse cx="1130" cy="752" rx="16" ry="14"/>
<ellipse cx="932" cy="805" rx="14" ry="20"/><ellipse cx="1022" cy="800" rx="14" ry="10"/><ellipse cx="1045" cy="782" rx="18" ry="12"/><ellipse cx="930" cy="855" rx="18" ry="16"/><ellipse cx="985" cy="862" rx="16" ry="14"/><ellipse cx="1017" cy="840" rx="12" ry="10"/><ellipse cx="1145" cy="840" rx="10" ry="14"/><ellipse cx="958" cy="775" rx="8" ry="6"/>
<ellipse cx="1005" cy="785" rx="6" ry="5"/><ellipse cx="1120" cy="775" rx="7" ry="5"/><ellipse cx="1030" cy="865" rx="8" ry="6"/><ellipse cx="915" cy="830" rx="6" ry="8"/>
<ellipse cx="972" cy="822" rx="30" ry="20" transform="rotate(35 972 822)" fill="#3a3a3a"/>
</g>
<g filter="url(#soft)">
<ellipse cx="979" cy="824" rx="13" ry="13" fill="#2c2c2c" stroke="#aaa" stroke-width="1.5"/>
<ellipse cx="1110" cy="803" rx="40" ry="20" transform="rotate(-25 1110 803)" fill="#7c7c7c" stroke="#9e9e9e" stroke-width="1.5"/>
<g stroke="#949494" stroke-width="1"><line x1="1080" y1="815" x2="1140" y2="788"/><line x1="1082" y1="822" x2="1143" y2="795"/><line x1="1086" y1="828" x2="1145" y2="802"/><line x1="1078" y1="808" x2="1135" y2="783"/></g>
<circle cx="1070" cy="825" r="5" fill="#111"/>
<ellipse cx="1090" cy="860" rx="12" ry="16" fill="#222" stroke="#aaa" stroke-width="1.5"/>
<circle cx="1064" cy="858" r="4" fill="#111"/>
<polygon points="1030,887 1045,870 1060,866 1075,872 1085,887" fill="#a8a8a8" opacity="0.8"/>
<circle cx="1125" cy="762" r="3" fill="#151515"/><circle cx="914" cy="780" r="2.5" fill="#151515"/>
</g>
</g>
<g clip-path="url(#c5)">
<rect x="1176" y="735" width="243" height="152" fill="#626262"/>
<rect x="1176" y="735" width="243" height="152" filter="url(#grain)" opacity="0.12"/>
<g stroke="#929292" stroke-width="1.5" fill="#5b5b5b" filter="url(#soft)">
<circle cx="1192" cy="760" r="12"/><circle cx="1222" cy="748" r="10"/><circle cx="1250" cy="770" r="14"/><circle cx="1282" cy="752" r="11"/><circle cx="1318" cy="765" r="15"/><circle cx="1355" cy="750" r="12"/><circle cx="1395" cy="768" r="16"/>
<circle cx="1200" cy="800" r="14"/><circle cx="1236" cy="805" r="11"/><circle cx="1270" cy="800" r="13"/><circle cx="1305" cy="808" r="10"/><circle cx="1340" cy="800" r="15"/><circle cx="1380" cy="805" r="12"/><circle cx="1412" cy="800" r="10"/>
<circle cx="1190" cy="845" r="12"/><circle cx="1225" cy="842" r="15"/><circle cx="1262" cy="848" r="12"/><circle cx="1298" cy="845" r="14"/><circle cx="1335" cy="850" r="12"/><circle cx="1372" cy="842" r="14"/><circle cx="1408" cy="850" r="11"/>
<circle cx="1210" cy="878" r="10"/><circle cx="1250" cy="880" r="12"/><circle cx="1290" cy="878" r="10"/><circle cx="1330" cy="880" r="11"/><circle cx="1372" cy="880" r="12"/>
</g>
<circle cx="1232" cy="830" r="4" fill="#1c1c1c"/><circle cx="1296" cy="813" r="3.5" fill="#1c1c1c"/>
<ellipse cx="1202" cy="870" rx="4" ry="3" fill="#e6e6e6"/>
</g>

<!-- Row 2 -->
<g clip-path="url(#d1)">
<rect x="98" y="918" width="244" height="152" fill="#717171"/>
<rect x="98" y="918" width="244" height="152" filter="url(#grain)" opacity="0.14"/>
</g>
<g clip-path="url(#d2)">
<rect x="371" y="918" width="243" height="152" fill="#727272"/>
<rect x="371" y="918" width="243" height="152" filter="url(#grain)" opacity="0.14"/>
</g>
<g clip-path="url(#d3)">
<rect x="639" y="918" width="243" height="152" fill="#717171"/>
<rect x="639" y="918" width="243" height="152" filter="url(#grain)" opacity="0.14"/>
<g stroke="#939393" stroke-width="1" opacity="0.5"><line x1="660" y1="1070" x2="720" y2="930"/><line x1="700" y1="980" x2="780" y2="960"/><line x1="720" y1="1010" x2="800" y2="995"/><line x1="840" y1="1000" x2="870" y2="930"/></g>
<g fill="#e2e2e2" filter="url(#soft)">
<circle cx="657" cy="925" r="4.5"/><circle cx="823" cy="925" r="2"/><circle cx="819" cy="938" r="2.5"/><circle cx="809" cy="970" r="3"/><circle cx="797" cy="982" r="2"/><circle cx="785" cy="1012" r="3"/><circle cx="772" cy="1042" r="3"/><circle cx="767" cy="1055" r="2.5"/><circle cx="709" cy="1015" r="2.5"/><circle cx="679" cy="1024" r="2.5"/><circle cx="790" cy="995" r="1.5"/>
</g>
</g>
<g clip-path="url(#d4)">
<rect x="908" y="918" width="243" height="152" fill="#686868"/>
<rect x="908" y="918" width="243" height="152" filter="url(#grain)" opacity="0.1"/>
<g filter="url(#soft2)">
<ellipse cx="930" cy="985" rx="11" ry="22" fill="#5a5a5a" stroke="#858585" stroke-width="2"/>
<circle cx="960" cy="1050" r="13" fill="#595959" stroke="#828282" stroke-width="2"/>
<circle cx="1000" cy="1045" r="14" fill="#595959" stroke="#828282" stroke-width="2"/>
<circle cx="1045" cy="1055" r="11" fill="#595959" stroke="#828282" stroke-width="2"/>
<ellipse cx="1125" cy="960" rx="15" ry="30" fill="#5d5d5d" stroke="#868686" stroke-width="2"/>
<ellipse cx="1095" cy="1050" rx="18" ry="14" fill="#5f5f5f" stroke="#828282" stroke-width="2"/>
</g>
<g filter="url(#soft)">
<path d="M958,918 C953,962 975,1010 1020,1025 C1060,1035 1092,1010 1100,970 C1105,945 1100,925 1096,918 Z" fill="#3e3e3e" stroke="#b8b8b8" stroke-width="2.5"/>
<path d="M975,920 C990,950 1000,985 1015,1010" fill="none" stroke="#8e8e8e" stroke-width="4"/>
<ellipse cx="1050" cy="955" rx="18" ry="26" fill="#2c2c2c" stroke="#8e8e8e" stroke-width="1.5"/>
<circle cx="1022" cy="985" r="14" fill="#525252" stroke="#808080" stroke-width="1.5"/>
<path d="M1000,930 C1010,940 1020,950 1025,965" fill="none" stroke="#aaa" stroke-width="2"/>
</g>
</g>
<g clip-path="url(#d5)">
<rect x="1176" y="918" width="243" height="152" fill="#707070"/>
<rect x="1176" y="918" width="243" height="152" filter="url(#grain)" opacity="0.1"/>
<g filter="url(#soft)">
<ellipse cx="1195" cy="1025" rx="20" ry="32" fill="#585858"/>
<path d="M1208,918 L1272,918 C1274,945 1262,975 1245,985 C1225,990 1212,970 1208,945 Z" fill="#444" stroke="#b0b0b0" stroke-width="2"/>
<ellipse cx="1322" cy="995" rx="32" ry="28" fill="#636363" stroke="#a0a0a0" stroke-width="2"/>
<ellipse cx="1330" cy="1002" rx="18" ry="16" fill="#575757"/>
<circle cx="1288" cy="1053" r="10" fill="#484848" stroke="#999" stroke-width="1.5"/>
<path d="M1180,975 C1200,960 1225,955 1240,950" fill="none" stroke="#909090" stroke-width="3"/>
<path d="M1280,935 C1300,945 1330,950 1345,960" fill="none" stroke="#909090" stroke-width="2"/>
</g>
</g>

<!-- info bars -->
<g fill="#0a0a0a">
<rect x="98" y="887" width="244" height="10"/><rect x="371" y="887" width="243" height="10"/><rect x="639" y="887" width="243" height="10"/><rect x="908" y="887" width="243" height="10"/><rect x="1176" y="887" width="243" height="10"/>
<rect x="98" y="1070" width="244" height="10"/><rect x="371" y="1070" width="243" height="10"/><rect x="639" y="1070" width="243" height="10"/><rect x="908" y="1070" width="243" height="10"/><rect x="1176" y="1070" width="243" height="10"/>
</g>
<g stroke="#ddd" stroke-width="0.6">
<line x1="101" y1="890" x2="156" y2="890"/><line x1="374" y1="890" x2="429" y2="890"/><line x1="642" y1="890" x2="697" y2="890"/><line x1="911" y1="890" x2="966" y2="890"/><line x1="1179" y1="890" x2="1234" y2="890"/>
<line x1="101" y1="1073" x2="166" y2="1073"/><line x1="374" y1="1073" x2="439" y2="1073"/><line x1="642" y1="1073" x2="707" y2="1073"/><line x1="911" y1="1073" x2="976" y2="1073"/><line x1="1179" y1="1073" x2="1244" y2="1073"/>
</g>
<g font-size="3" fill="#ddd" font-weight="normal">
<text x="180" y="891">Mag  FW   HV   Det  Dwl   WD    Vac</text><text x="453" y="891">Mag  FW   HV   Det  Dwl   WD    Vac</text><text x="721" y="891">Mag  FW   HV   Det  Dwl   WD    Vac</text><text x="990" y="891">Mag  FW   HV   Det  Dwl   WD    Vac</text><text x="1258" y="891">Mag  FW   HV   Det  Dwl   WD    Vac</text>
<text x="180" y="1074">Mag  FW   HV   Det  Dwl   WD    Vac</text><text x="453" y="1074">Mag  FW   HV   Det  Dwl   WD    Vac</text><text x="721" y="1074">Mag  FW   HV   Det  Dwl   WD    Vac</text><text x="990" y="1074">Mag  FW   HV   Det  Dwl   WD    Vac</text><text x="1258" y="1074">Mag  FW   HV   Det  Dwl   WD    Vac</text>
</g>

<!-- scale bars -->
<g stroke="#fff" stroke-width="1.5" fill="none">
<path d="M278,866 H336 M278,862 V870 M336,862 V870 M297,864 V866 M317,864 V866"/>
<path d="M550,866 H608 M550,862 V870 M608,862 V870 M569,864 V866 M589,864 V866"/>
<path d="M818,866 H876 M818,862 V870 M876,862 V870 M837,864 V866 M857,864 V866"/>
<path d="M1087,866 H1145 M1087,862 V870 M1145,862 V870 M1106,864 V866 M1126,864 V866"/>
<path d="M1355,866 H1413 M1355,862 V870 M1413,862 V870 M1374,864 V866 M1394,864 V866"/>
<path d="M278,1049 H336 M278,1045 V1053 M336,1045 V1053 M297,1047 V1049 M317,1047 V1049"/>
<path d="M550,1049 H608 M550,1045 V1053 M608,1045 V1053 M569,1047 V1049 M589,1047 V1049"/>
<path d="M818,1049 H876 M818,1045 V1053 M876,1045 V1053 M837,1047 V1049 M857,1047 V1049"/>
<path d="M1087,1049 H1145 M1087,1045 V1053 M1145,1045 V1053 M1106,1047 V1049 M1126,1047 V1049"/>
<path d="M1355,1049 H1413 M1355,1045 V1053 M1413,1045 V1053 M1374,1047 V1049 M1394,1047 V1049"/>
</g>
<g font-size="12" fill="#fff" text-anchor="middle">
<text x="309" y="882">30 µm</text><text x="581" y="882">30 µm</text><text x="849" y="882">30 µm</text><text x="1118" y="882">30 µm</text><text x="1386" y="882">30 µm</text>
<text x="309" y="1065">8 µm</text><text x="581" y="1065">8 µm</text><text x="849" y="1065">8 µm</text><text x="1118" y="1065">8 µm</text><text x="1386" y="1065">8 µm</text>
</g>
<g font-size="18" fill="#fff">
<text x="103" y="754">E-Cur-0</text><text x="375" y="754">E-Cur-0.4</text><text x="643" y="754">E-Cur-0.8</text><text x="912" y="754">E-Cur-1.2</text><text x="1180" y="754">E-Cur-1.6</text>
<text x="103" y="937">E-Cur-0</text><text x="375" y="937">E-Cur-0.4</text><text x="643" y="937">E-Cur-0.8</text><text x="912" y="937">E-Cur-1.2</text><text x="1180" y="937">E-Cur-1.6</text>
</g>

<!-- watermark -->
<g opacity="0.7">
<g fill="none" stroke="#d0d0d0" stroke-width="4">
<ellipse cx="1250" cy="1050" rx="26" ry="22"/><ellipse cx="1252" cy="1046" rx="15" ry="13"/><circle cx="1254" cy="1043" r="5"/>
<path d="M1215,1065 Q1235,1058 1250,1066 T1285,1064"/><path d="M1215,1078 Q1235,1071 1250,1079 T1285,1077"/>
</g>
<text x="1294" y="1080" font-size="54" fill="#e4e4e4" stroke="#b4b4b4" stroke-width="1.3" font-family="'Noto Sans CJK SC',sans-serif" letter-spacing="6">南海所</text>
</g>
</svg>
</body></html>
